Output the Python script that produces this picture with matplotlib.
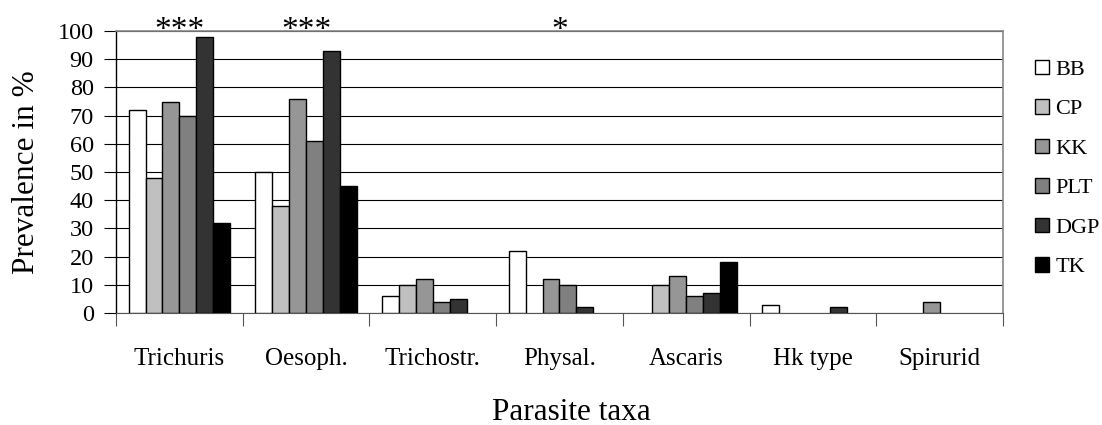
"""Prevalence of parasite taxa by site, grouped bars with significance stars."""
import numpy as np
import matplotlib
matplotlib.use("Agg")
import matplotlib.pyplot as plt  # noqa: E402
from matplotlib.patches import Patch  # noqa: E402

plt.rcParams["font.family"] = ["Liberation Serif", "DejaVu Serif"]

TAXA = ["Trichuris", "Oesoph.", "Trichostr.", "Physal.", "Ascaris", "Hk type", "Spirurid"]
SITES = ["BB", "CP", "KK", "PLT", "DGP", "TK"]
COLORS = ["#ffffff", "#c0c0c0", "#969696", "#808080", "#333333", "#000000"]

BB = [72, 50, 6, 22, 0, 3, 0]
CP = [48, 38, 10, 0, 10, 0, 0]
KK = [75, 76, 12, 12, 13, 0, 4]
PLT = [70, 61, 4, 10, 6, 0, 0]
DGP = [98, 93, 5, 2, 7, 2, 0]
TK = [32, 45, 0, 0, 18, 0, 0]
STARS = ["***", "***", "", "*", "", "", ""]


def main():
    series = [BB, CP, KK, PLT, DGP, TK]
    fig = plt.figure(figsize=(11.02, 4.25), dpi=100)
    ax = fig.add_axes([0.1053, 0.2635, 0.8048, 0.6635])

    n = len(SITES)
    bw = 0.8 / n
    x0 = np.arange(len(TAXA)) + 0.1
    for k, (vals, col) in enumerate(zip(series, COLORS)):
        v = np.asarray(vals, dtype=float)
        keep = v > 0  # empty bars are not drawn in the original
        ax.bar((x0 + k * bw)[keep], v[keep], width=bw, align="edge", color=col,
               edgecolor="black", linewidth=1.0, zorder=3)

    ax.set_xlim(0, len(TAXA))
    ax.set_ylim(0, 100)
    ax.set_yticks(range(0, 101, 10))
    ax.yaxis.grid(True, color="black", linewidth=0.8, zorder=0)
    ax.set_axisbelow(True)

    ax.set_xticks(range(len(TAXA) + 1))
    ax.set_xticklabels([])
    ax.set_xticks(np.arange(len(TAXA)) + 0.5, minor=True)
    ax.set_xticklabels(TAXA, minor=True, fontsize=18)
    ax.tick_params(axis="x", which="major", direction="out", length=9,
                   color="#555555")
    ax.tick_params(axis="x", which="minor", length=0, pad=25)
    ax.tick_params(axis="y", direction="out", length=9, labelsize=17.5, pad=7)

    for side in ("top", "right"):
        ax.spines[side].set_color("#888888")
        ax.spines[side].set_linewidth(1.2)
    ax.spines["left"].set_linewidth(1.0)
    ax.spines["bottom"].set_color("#555555")

    for i, s in enumerate(STARS):
        if s:
            ax.text(i + 0.5, 100, s, ha="center", va="center", fontsize=24,
                    transform=ax.transData, clip_on=False)

    ax.set_ylabel("Prevalence in %", fontsize=22.5, labelpad=12)
    ax.set_xlabel("Parasite taxa", fontsize=22.5, labelpad=20)
    ax.xaxis.label.set_x(0.513)

    handles = [Patch(facecolor=c, edgecolor="black", linewidth=1.0) for c in COLORS]
    fig.legend(handles, SITES, loc="upper left", bbox_to_anchor=(0.931, 0.88),
               frameon=False, fontsize=16, handlelength=0.63, handleheight=0.63,
               handletextpad=0.3, labelspacing=0.87, borderaxespad=0)

    fig.savefig("out.png", dpi=100)
    plt.close(fig)


if __name__ == "__main__":
    main()
